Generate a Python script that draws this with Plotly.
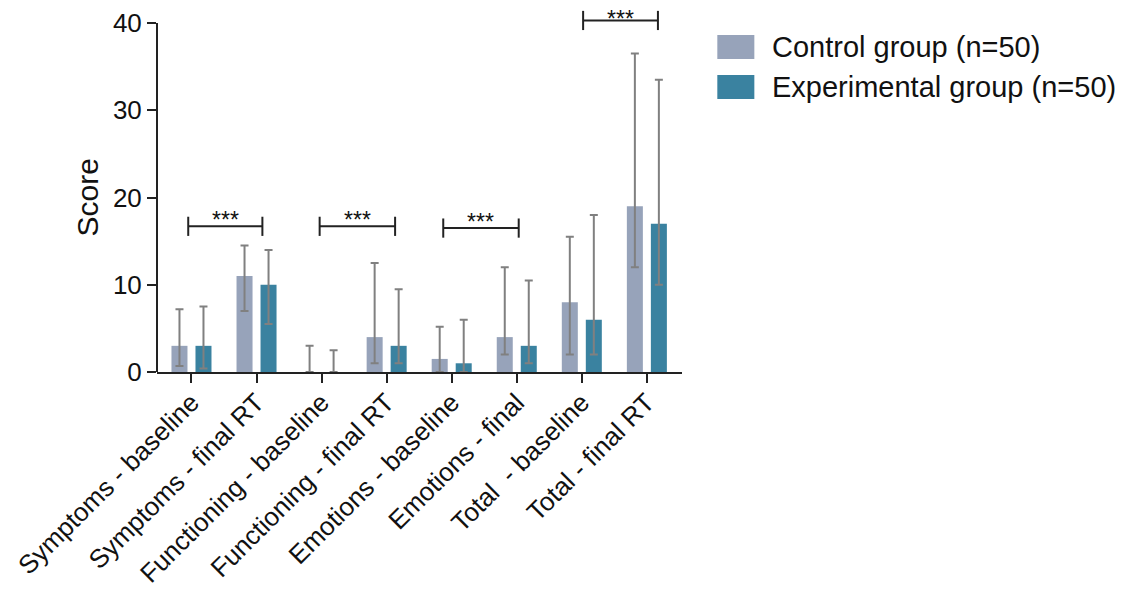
import plotly.graph_objects as go

categories = ["Symptoms - baseline", "Symptoms - final RT", "Functioning - baseline",
              "Functioning - final RT", "Emotions - baseline", "Emotions - final",
              "Total  - baseline", "Total - final RT"]
series_names = ["Control group (n=50)", "Experimental group (n=50)"]

control_mean = [3, 11, 0, 4, 1.5, 4, 8, 19]
control_low = [0.7, 7.0, 0, 1.0, 0, 2.0, 2.0, 12.0]
control_high = [7.2, 14.5, 3.0, 12.5, 5.2, 12.0, 15.5, 36.5]

exp_mean = [3, 10, 0, 3, 1, 3, 6, 17]
exp_low = [0.4, 5.5, 0, 1.0, 0, 1.0, 2.0, 10.0]
exp_high = [7.5, 14.0, 2.5, 9.5, 6.0, 10.5, 18.0, 33.5]

y_ticks = [0, 10, 20, 30, 40]
y_title = "Score"

# significance brackets: (start category, end category, y level, label)
brackets = [(-0.05, 1.09, 16.7, "***"), (1.97, 3.13, 16.7, "***"),
            (3.87, 5.03, 16.5, "***"), (6.02, 7.17, 40.3, "***")]
label_shift = [-9, -9, -9, -14]  # px, style only

colors = ["#97A3BA", "#3A82A0"]
err_color = "#808080"
axis_color = "#222222"
font_family = "Liberation Sans, Arial, sans-serif"

# page body has an 8px default margin; layout below is expressed in figure pixels
L, T, B = 149, 2, 233
W = 524.7
R = 1135 - (L + W)
H = 597 - T - B

x = list(range(len(categories)))
fig = go.Figure()
for name, mean, low, high, col in [(series_names[0], control_mean, control_low, control_high, colors[0]),
                                   (series_names[1], exp_mean, exp_low, exp_high, colors[1])]:
    fig.add_trace(go.Bar(
        x=x, y=mean, name=name, marker=dict(color=col, line=dict(width=0)),
        error_y=dict(type="data", symmetric=False,
                     array=[h - m for h, m in zip(high, mean)],
                     arrayminus=[m - l for m, l in zip(mean, low)],
                     color=err_color, thickness=2, width=4),
        showlegend=False,
    ))

cap = 1.1
for (x0, x1, yb, lab), ys in zip(brackets, label_shift):
    fig.add_trace(go.Scatter(
        x=[x0, x0, None, x0, x1, None, x1, x1],
        y=[yb - cap, yb + cap, None, yb, yb, None, yb - cap, yb + cap],
        mode="lines", line=dict(color=axis_color, width=2),
        showlegend=False, hoverinfo="skip"))
    fig.add_annotation(x=(x0 + x1) / 2, y=yb, text=lab, showarrow=False,
                       yanchor="bottom", yshift=ys,
                       font=dict(size=23, color="#111111", family=font_family))

# y axis line drawn only up to the top tick
fig.add_shape(type="line", xref="paper", yref="y", x0=0, x1=0, y0=0, y1=y_ticks[-1],
              line=dict(color=axis_color, width=2))

# y axis title centred on the tick span
fig.add_annotation(xref="paper", yref="y", x=0, y=(y_ticks[0] + y_ticks[-1]) / 2,
                   text=y_title, textangle=-90, showarrow=False,
                   xanchor="center", yanchor="middle", xshift=-69,
                   font=dict(size=30, color="#111111", family=font_family))

# custom legend (figure-pixel rows)
for i, (name, col) in enumerate(zip(series_names, colors)):
    yc = 1 - (39 + 40 * i - T) / H
    fig.add_shape(type="rect", xref="paper", yref="paper",
                  x0=(709 - L) / W, x1=(746 - L) / W,
                  y0=yc - 12 / H, y1=yc + 12 / H,
                  fillcolor=col, line=dict(width=0))
    fig.add_annotation(xref="paper", yref="paper", x=(762 - L) / W, y=yc,
                       xanchor="left", yanchor="middle", text=name, showarrow=False,
                       font=dict(size=29, color="#111111", family=font_family))

fig.update_layout(
    width=1135, height=597,
    margin=dict(l=L, r=R, t=T, b=B, autoexpand=False),
    plot_bgcolor="white", paper_bgcolor="white",
    barmode="group", bargap=0.262, bargroupgap=0.333,
    font=dict(family=font_family, color="#111111"),
)
fig.update_xaxes(
    range=[-0.53, 7.54], tickmode="array", tickvals=x, ticktext=categories,
    tickangle=-45, tickfont=dict(size=26), automargin=False, ticklabelstandoff=-6,
    showline=True, linecolor=axis_color, linewidth=2,
    ticks="outside", ticklen=9, tickwidth=2, tickcolor=axis_color,
    showgrid=False, zeroline=False,
)
fig.update_yaxes(
    range=[0, 41.5], tickvals=y_ticks, tickfont=dict(size=26), automargin=False,
    showline=False,
    ticks="outside", ticklen=9, tickwidth=2, tickcolor=axis_color,
    showgrid=False, zeroline=False,
)

fig.write_html("out.html")
